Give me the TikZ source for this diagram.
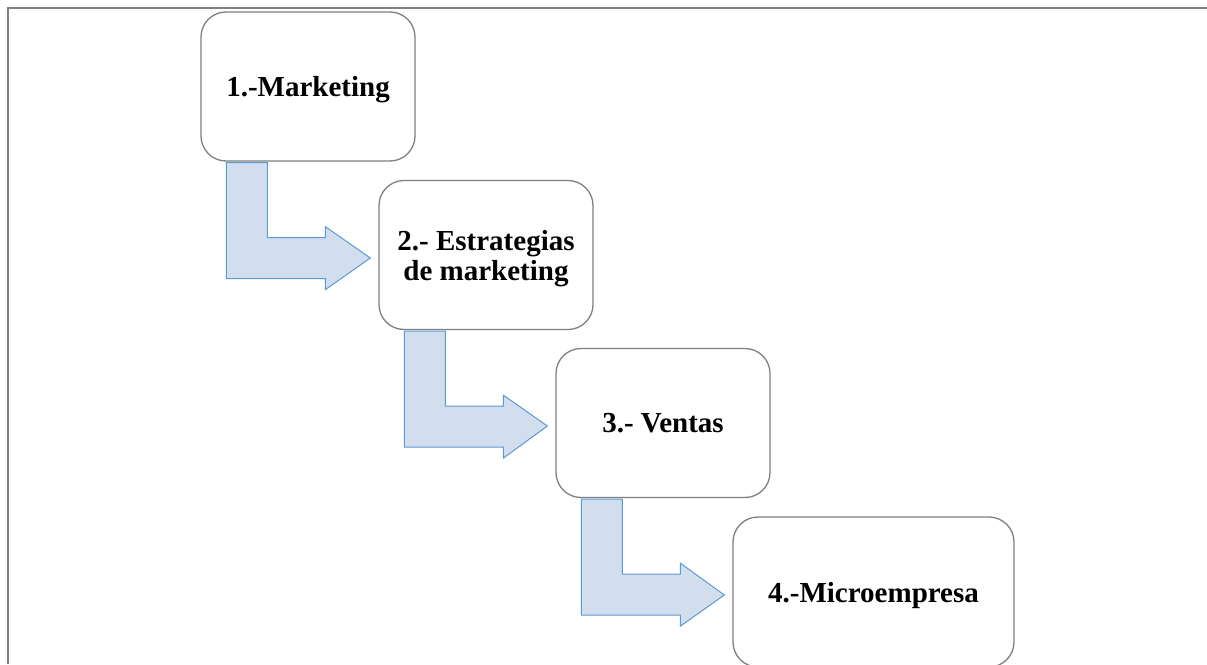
\documentclass[tikz,border=0pt]{standalone}
\usepackage{fontspec}
\setmainfont{Liberation Serif}
\usetikzlibrary{calc}
\definecolor{boxline}{HTML}{7F7F7F}
\definecolor{frameline}{HTML}{808080}
\definecolor{arrfill}{HTML}{D2DDEE}
\definecolor{arrline}{HTML}{5B9BD5}
\tikzset{
  stagebox/.style={draw=boxline, line width=1.3pt, fill=white, rounded corners=25pt,
    minimum width=214pt, minimum height=149pt, align=center, inner sep=2pt,
    text depth=0pt,
    font=\fontsize{29}{30}\selectfont\bfseries},
  bentarrow/.style={draw=arrline, fill=arrfill, line width=1pt, line join=miter},
  frame/.style={draw=frameline, line width=2pt}
}
\newcommand\bentarr[2]{%
  \draw[bentarrow] ($(#1.south west)+(26,1)$) coordinate (#1a)
    -- ($(#1.south west)+(67,1)$)
    -- ($(#1.south west)+(67,76)$)
    -- ($(#1.south west)+(125,76)$)
    -- ($(#1.south west)+(125,65)$)
    -- ($(#2.west)+(-8,3)$)
    -- ($(#1.south west)+(125,128)$)
    -- ($(#1.south west)+(125,117)$)
    -- ($(#1.south west)+(26,117)$)
    -- cycle;}
\begin{document}
\begin{tikzpicture}[x=1pt,y=-1pt]
\useasboundingbox (0,0) rectangle (1207,664);
\clip (0,0) rectangle (1207,664);
\fill[white] (0,0) rectangle (1207,664);
\coordinate (fo) at (8,8);
\coordinate (ftr) at (1207,8);
\coordinate (fbl) at (8,664);
\draw[frame] (fbl) -- (fo) -- (ftr);
\node[stagebox] (b1) at (308,86.5) {1.-Marketing};
\node[stagebox] (b2) at (486,255) {2.- Estrategias\\de marketing};
\node[stagebox] (b3) at (663,423) {3.- Ventas};
\node[stagebox, minimum width=281pt, minimum height=150pt] (b4) at (873.5,592) {4.-Microempresa};
\bentarr{b1}{b2}
\bentarr{b2}{b3}
\bentarr{b3}{b4}
\end{tikzpicture}
\end{document}
